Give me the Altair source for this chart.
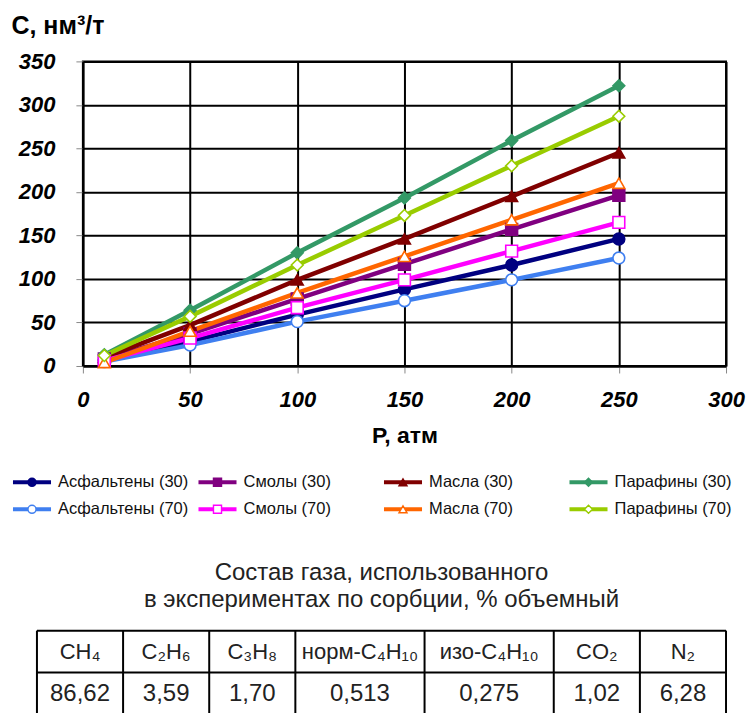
import altair as alt
import pandas as pd

FONT = "Arial"

# ---- data ----
pressure = [10, 50, 100, 150, 200, 250]
asph30 = [7, 28, 59, 88, 116, 146]
asph70 = [5, 24, 51, 75, 99, 124]
resin30 = [8, 37, 77, 117, 157, 196]
resin70 = [6, 32, 67, 99, 132, 165]
oil30 = [10, 47, 99, 146, 195, 245]
oil70 = [4, 40, 84, 126, 168, 210]
paraf30 = [13, 64, 130, 193, 259, 322]
paraf70 = [12, 57, 116, 173, 230, 287]

series_names = ["Асфальтены (30)", "Смолы (30)", "Масла (30)", "Парафины (30)",
                "Асфальтены (70)", "Смолы (70)", "Масла (70)", "Парафины (70)"]
series_values = [asph30, resin30, oil30, paraf30, asph70, resin70, oil70, paraf70]
series_colors = ["#000080", "#800080", "#800000", "#339966",
                 "#3f7ff0", "#ff00ff", "#ff6600", "#99cc00"]
series_shapes = ["circle", "square", "triangle-up", "diamond"] * 2
series_fills = series_colors[:4] + ["#ffffff"] * 4

gas_names = ["CH₄", "C₂H₆", "C₃H₈", "норм-C₄H₁₀", "изо-C₄H₁₀", "CO₂", "N₂"]
gas_values = ["86,62", "3,59", "1,70", "0,513", "0,275", "1,02", "6,28"]
gas_col_units = [1, 1, 1, 1.5, 1.5, 1, 1]

table_title = ["Состав газа, использованного", "в экспериментах по сорбции, % объемный"]

# ---- long table ----
rows = []
for k, (name, vals) in enumerate(zip(series_names, series_values)):
    for p, c in zip(pressure, vals):
        rows.append({"series": name, "P": p, "C": c, "order": k})
df = pd.DataFrame(rows)

color_scale = alt.Scale(domain=series_names, range=series_colors)
fill_scale = alt.Scale(domain=series_names, range=series_fills)
shape_scale = alt.Scale(domain=series_names, range=series_shapes)

x_enc = alt.X("P:Q", scale=alt.Scale(domain=[0, 300], nice=False),
              axis=alt.Axis(values=[0, 50, 100, 150, 200, 250, 300], title="Р, атм",
                            titleFontSize=23, titleFontWeight="bold", titleFont=FONT,
                            titleColor="#000", titlePadding=14,
                            labelFontSize=22, labelFontWeight="bold", labelFontStyle="italic",
                            labelFont=FONT, labelColor="#000", labelPadding=17,
                            labelFlush=False, labelOverlap=False,
                            tickSize=7, tickColor="#888", tickWidth=1,
                            domainColor="#000", domainWidth=2,
                            grid=True, gridColor="#000", gridWidth=2, gridOpacity=1))
y_enc = alt.Y("C:Q", scale=alt.Scale(domain=[0, 350], nice=False),
              axis=alt.Axis(values=[0, 50, 100, 150, 200, 250, 300, 350], title="С, нм³/т",
                            titleAngle=0, titleAlign="left", titleBaseline="alphabetic",
                            titleX=-72, titleY=-28,
                            titleFontSize=25, titleFontWeight="bold", titleFont=FONT,
                            titleColor="#000",
                            labelFontSize=22, labelFontWeight="bold", labelFontStyle="italic",
                            labelFont=FONT, labelColor="#000", labelPadding=21,
                            labelFlush=False, labelOverlap=False,
                            tickSize=7, tickColor="#888", tickWidth=1,
                            domainColor="#000", domainWidth=2,
                            grid=True, gridColor="#000", gridWidth=2, gridOpacity=1))

base = alt.Chart(df)
lines = base.mark_line(strokeWidth=4.5).encode(
    x=x_enc, y=y_enc,
    color=alt.Color("series:N", scale=color_scale, legend=None),
    order=alt.Order("P:Q"),
)
points = base.mark_point(filled=True, size=140, strokeWidth=1.6, opacity=1).encode(
    x="P:Q", y="C:Q",
    fill=alt.Fill("series:N", scale=fill_scale, legend=None),
    stroke=alt.Stroke("series:N", scale=color_scale, legend=None),
    shape=alt.Shape("series:N", scale=shape_scale, legend=None),
)
main = alt.layer(lines, points).properties(
    width=644, height=305, view=alt.ViewBackground(stroke="#000", strokeWidth=2))

# ---- custom legend ----
leg = pd.DataFrame({
    "series": series_names,
    "col": [i % 4 for i in range(8)],
    "row": [i // 4 for i in range(8)],
})
lx = alt.Scale(domain=[0, 4], range=[-70, 673])
ly = alt.Scale(domain=[-0.5, 1.5], range=[5, 59])
lbase = alt.Chart(leg).transform_calculate(
    xa="datum.col", xb="datum.col + 0.205", xm="datum.col + 0.1025", xt="datum.col + 0.243")
leg_lines = lbase.mark_rule(strokeWidth=4).encode(
    x=alt.X("xa:Q", scale=lx, axis=None), x2="xb:Q",
    y=alt.Y("row:Q", scale=ly, axis=None),
    color=alt.Color("series:N", scale=color_scale, legend=None))
leg_pts = lbase.mark_point(filled=True, size=65, strokeWidth=1.4, opacity=1).encode(
    x=alt.X("xm:Q", scale=lx, axis=None),
    y=alt.Y("row:Q", scale=ly, axis=None),
    fill=alt.Fill("series:N", scale=fill_scale, legend=None),
    stroke=alt.Stroke("series:N", scale=color_scale, legend=None),
    shape=alt.Shape("series:N", scale=shape_scale, legend=None))
leg_txt = lbase.mark_text(align="left", baseline="middle", fontSize=16.5, font=FONT, color="#111").encode(
    x=alt.X("xt:Q", scale=lx, axis=None),
    y=alt.Y("row:Q", scale=ly, axis=None),
    text="series:N")
legend = alt.layer(leg_lines, leg_pts, leg_txt).properties(
    width=644, height=82, view=alt.ViewBackground(stroke=None))

# ---- table ----
bounds = [0]
for u in gas_col_units:
    bounds.append(bounds[-1] + u)
cells = pd.DataFrame({
    "name": gas_names, "value": gas_values,
    "mid": [(bounds[i] + bounds[i + 1]) / 2 for i in range(len(gas_names))],
    "hy": 0.5, "vy": 1.5,
})
tx = alt.Scale(domain=[0, bounds[-1]], range=[-46, 644])
ty = alt.Scale(domain=[0, 2], range=[0, 84])
hl = pd.DataFrame({"y": [0, 1], "xa": 0, "xb": bounds[-1]})
vl = pd.DataFrame({"x": bounds, "ya": 0, "yb": 2})
h_rules = alt.Chart(hl).mark_rule(strokeWidth=2, color="#000").encode(
    x=alt.X("xa:Q", scale=tx, axis=None), x2="xb:Q", y=alt.Y("y:Q", scale=ty, axis=None))
v_rules = alt.Chart(vl).mark_rule(strokeWidth=2, color="#000").encode(
    x=alt.X("x:Q", scale=tx, axis=None), y=alt.Y("ya:Q", scale=ty, axis=None), y2="yb:Q")
head_txt = alt.Chart(cells).mark_text(fontSize=22, font=FONT, color="#222", baseline="middle").encode(
    x=alt.X("mid:Q", scale=tx, axis=None), y=alt.Y("hy:Q", scale=ty, axis=None), text="name:N")
val_txt = alt.Chart(cells).mark_text(fontSize=24, font=FONT, color="#222", baseline="middle").encode(
    x=alt.X("mid:Q", scale=tx, axis=None), y=alt.Y("vy:Q", scale=ty, axis=None), text="value:N")
table = alt.layer(h_rules, v_rules, head_txt, val_txt).properties(
    width=644, height=84, view=alt.ViewBackground(stroke=None),
    title=alt.TitleParams(text=table_title, fontSize=24, fontWeight="normal", font=FONT,
                          color="#222", lineHeight=27, offset=18, anchor="middle", frame="bounds"))

chart = alt.vconcat(main, legend, table, spacing=15).properties(
    padding={"left": 10, "top": 12, "right": 0, "bottom": 0}
).configure_view(stroke=None).configure_concat(spacing=15)

chart = chart.resolve_scale(x="independent", y="independent", color="shared")

chart.save("out.html", embed_options={"renderer": "svg", "actions": False})
